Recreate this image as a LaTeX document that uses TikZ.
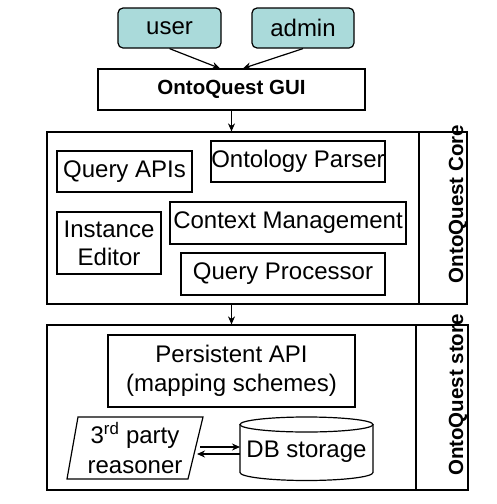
\documentclass[tikz,border=0pt]{standalone}
\usepackage{fontspec}
\setmainfont{Liberation Sans}
\usetikzlibrary{arrows.meta,shapes.geometric,calc}
\definecolor{actor}{RGB}{170,218,218}
\tikzset{
  box/.style={draw, line width=1.2pt, rectangle, inner sep=0pt, align=center,
    font=\fontsize{24}{28}\selectfont},
  actorbox/.style={box, rounded corners=5pt, fill=actor},
  frame/.style={draw, line width=1.2pt, rectangle, inner sep=0pt},
  side/.style={rotate=90, font=\fontsize{20.5}{24}\selectfont\bfseries, inner sep=0pt},
  arr/.style={-{Stealth[length=8pt,width=7pt]}, line width=1.2pt},
}
\begin{document}
\begin{tikzpicture}[x=1pt,y=-1pt]
\useasboundingbox (0,0) rectangle (496,504);
% actors
\node[actorbox, minimum width=103, minimum height=40] (user) at (169.5,28) {user};
\node[actorbox, minimum width=102, minimum height=40] (admin) at (303,28) {admin};
\node[box, minimum width=267, minimum height=41, font=\fontsize{20.5}{24}\selectfont\bfseries] (gui) at (231.5,89.5) {OntoQuest GUI};
% core
\node[frame, minimum width=420, minimum height=172] (core) at (257,218) {};
\coordinate (cdivt) at (419,132);
\coordinate (cdivb) at (419,304);
\draw[line width=1.2pt] (cdivt) -- (cdivb);
\node[side] (corelbl) at (458,204) {OntoQuest Core};
\node[box, minimum width=135, minimum height=41] (qapi) at (124.5,171.5) {Query APIs};
\node[box, minimum width=174, minimum height=41] (parser) at (298,161.5) {Ontology Parser};
\node[box, minimum width=104, minimum height=62] (inst) at (109,243) {Instance\\Editor};
\node[box, minimum width=236, minimum height=42] (ctx) at (288,223) {Context Management};
\node[box, minimum width=204, minimum height=42] (qproc) at (283,274) {Query Processor};
% store
\node[frame, minimum width=421, minimum height=165] (store) at (257.5,407.5) {};
\coordinate (sdivt) at (416,325);
\coordinate (sdivb) at (416,490);
\draw[line width=1.2pt] (sdivt) -- (sdivb);
\node[side] (storelbl) at (458,395) {OntoQuest store};
\node[box, minimum width=247, minimum height=72, font=\fontsize{24}{29}\selectfont] (papi) at (231.5,371) {Persistent API\\(mapping schemes)};
% reasoner parallelogram
\node[draw=none, align=center, inner sep=0pt, font=\fontsize{24}{30}\selectfont] (reas) at (135,448) {3\textsuperscript{rd} party\\reasoner};
\coordinate (r1) at (78,417);
\coordinate (r2) at (203,417);
\coordinate (r3) at (188,479);
\coordinate (r4) at (67,479);
\draw[line width=1.2pt] (r1) -- (r2) -- (r3) -- (r4) -- cycle;
% DB cylinder
\node[draw=none, minimum width=133, minimum height=63, inner sep=0pt, font=\fontsize{24}{28}\selectfont] (db) at (306.5,452) {DB storage};
\coordinate (dbtl) at (240,424.5);
\coordinate (dbbl) at (240,472.5);
\coordinate (dbtc) at (306.5,424.5);
\draw[line width=1.2pt] (dbtc) ellipse [x radius=66.5, y radius=7.5];
\draw[line width=1.2pt] (dbtl) -- (dbbl) arc[start angle=180, end angle=360, x radius=66.5, y radius=-8] -- ++(0,-48);
% connectors
\coordinate (ra1) at (200,447);
\coordinate (da1) at (240,447);
\coordinate (ra2) at (197,454);
\coordinate (da2) at (240,454);
\draw[arr] (ra1) -- (da1);
\draw[arr] (da2) -- (ra2);
\draw[arr] (user.south) -- ([xshift=-11.5pt]gui.north);
\draw[arr] (admin.south) -- ([xshift=11.5pt]gui.north);
\draw[arr] (gui.south) -- (gui.south |- core.north);
\draw[arr] (gui.south |- core.south) -- (gui.south |- store.north);
\end{tikzpicture}
\end{document}
